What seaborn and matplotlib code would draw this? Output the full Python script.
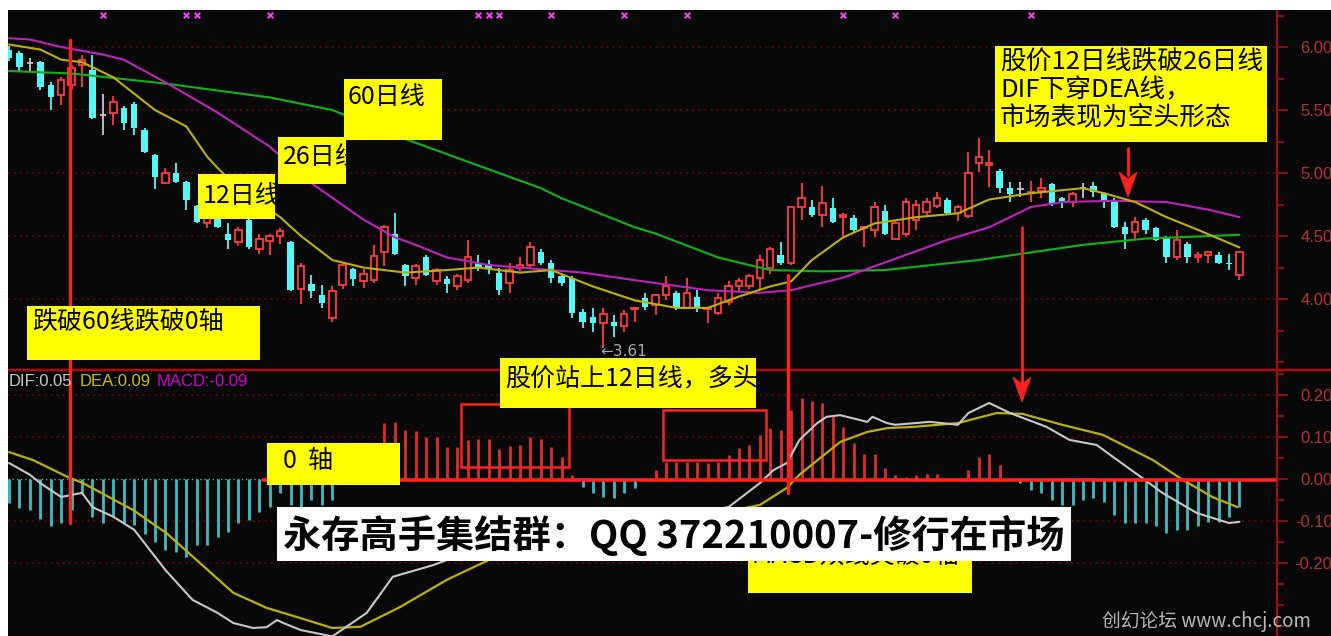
import numpy as np
import pandas as pd
import matplotlib
matplotlib.use("Agg")
import matplotlib.pyplot as plt
from matplotlib.patches import Rectangle, Polygon
from matplotlib.lines import Line2D
from matplotlib.ticker import FixedLocator, MultipleLocator, FormatStrFormatter
from matplotlib.transforms import blended_transform_factory
import seaborn as sns

# ---- daily candles (price panel) ----
opens = [5.98, 5.95, 5.87, 5.88, 5.70, 5.62, 5.70, 5.86, 5.82, 5.46,
         5.48, 5.52, 5.55, 5.34, 5.14, 4.92, 5.00, 4.93, 4.74, 4.60,
         4.72, 4.52, 4.45, 4.63, 4.40, 4.46, 4.50, 4.45, 4.08, 4.12,
         4.03, 3.85, 4.11, 4.24, 4.14, 4.15, 4.37, 4.52, 4.27, 4.17,
         4.33, 4.14, 4.16, 4.10, 4.15, 4.29, 4.28, 4.21, 4.13, 4.25,
         4.27, 4.37, 4.29, 4.18, 4.17, 3.90, 3.86, 3.81, 3.82, 3.79,
         3.92, 4.01, 3.95, 4.03, 4.05, 3.93, 4.02, 3.92, 3.89, 3.98,
         4.10, 4.10, 4.17, 4.25, 4.35, 4.29, 4.73, 4.73, 4.67, 4.72,
         4.65, 4.64, 4.56, 4.55, 4.70, 4.48, 4.52, 4.63, 4.69, 4.74,
         4.79, 4.68, 4.66, 5.08, 5.06, 5.02, 4.88, 4.87, 4.84, 4.86,
         4.91, 4.80, 4.77, 4.88, 4.90, 4.84, 4.79, 4.57, 4.53, 4.63,
         4.56, 4.49, 4.33, 4.44, 4.33, 4.35, 4.35, 4.29, 4.19]
highs = [6.01, 5.97, 5.91, 5.89, 5.72, 5.76, 5.86, 5.94, 5.94, 5.63,
         5.61, 5.53, 5.56, 5.36, 5.15, 5.04, 5.08, 4.94, 4.75, 4.70,
         4.74, 4.60, 4.57, 4.64, 4.52, 4.52, 4.56, 4.46, 4.29, 4.19,
         4.11, 4.10, 4.29, 4.25, 4.24, 4.43, 4.59, 4.68, 4.28, 4.28,
         4.35, 4.25, 4.18, 4.20, 4.47, 4.35, 4.31, 4.25, 4.29, 4.33,
         4.45, 4.40, 4.31, 4.20, 4.18, 3.92, 3.93, 3.93, 3.87, 3.91,
         3.94, 4.05, 4.04, 4.18, 4.06, 4.17, 4.07, 3.94, 4.05, 4.14,
         4.17, 4.20, 4.35, 4.41, 4.45, 4.74, 4.92, 4.79, 4.90, 4.80,
         4.68, 4.67, 4.58, 4.77, 4.75, 4.62, 4.80, 4.79, 4.80, 4.85,
         4.80, 4.75, 5.17, 5.28, 5.18, 5.03, 4.93, 4.93, 4.94, 4.96,
         4.92, 4.81, 4.85, 4.92, 4.93, 4.85, 4.80, 4.61, 4.65, 4.64,
         4.57, 4.50, 4.55, 4.45, 4.37, 4.38, 4.37, 4.36, 4.38]
lows = [5.89, 5.81, 5.81, 5.66, 5.50, 5.54, 5.66, 5.68, 5.43, 5.30,
        5.38, 5.34, 5.30, 5.16, 4.87, 4.91, 4.92, 4.71, 4.60, 4.56,
        4.56, 4.40, 4.42, 4.40, 4.36, 4.35, 4.44, 4.06, 3.96, 4.01,
        3.93, 3.82, 4.08, 4.10, 4.09, 4.13, 4.26, 4.35, 4.10, 4.11,
        4.18, 4.11, 4.05, 4.07, 4.13, 4.22, 4.20, 4.03, 4.05, 4.22,
        4.25, 4.27, 4.13, 4.10, 3.85, 3.77, 3.74, 3.61, 3.70, 3.74,
        3.82, 3.91, 3.87, 3.99, 3.91, 3.92, 3.90, 3.81, 3.87, 3.95,
        4.06, 4.08, 4.07, 4.20, 4.27, 4.27, 4.63, 4.65, 4.57, 4.60,
        4.50, 4.53, 4.41, 4.49, 4.51, 4.47, 4.49, 4.55, 4.67, 4.72,
        4.67, 4.62, 4.64, 5.01, 4.89, 4.84, 4.77, 4.81, 4.77, 4.80,
        4.74, 4.72, 4.73, 4.80, 4.81, 4.72, 4.56, 4.40, 4.47, 4.52,
        4.46, 4.29, 4.31, 4.29, 4.29, 4.29, 4.28, 4.23, 4.15]
closes = [5.91, 5.84, 5.87, 5.68, 5.60, 5.74, 5.83, 5.90, 5.44, 5.46,
          5.56, 5.40, 5.36, 5.17, 4.97, 5.00, 4.93, 4.79, 4.61, 4.66,
          4.57, 4.47, 4.55, 4.41, 4.48, 4.50, 4.54, 4.07, 4.26, 4.06,
          3.97, 4.06, 4.27, 4.16, 4.20, 4.34, 4.57, 4.36, 4.18, 4.26,
          4.19, 4.23, 4.12, 4.18, 4.33, 4.25, 4.25, 4.07, 4.23, 4.27,
          4.41, 4.29, 4.17, 4.13, 3.89, 3.82, 3.81, 3.88, 3.79, 3.88,
          3.93, 3.94, 4.03, 4.10, 3.94, 4.05, 3.94, 3.93, 4.01, 4.10,
          4.14, 4.18, 4.31, 4.40, 4.29, 4.73, 4.80, 4.67, 4.76, 4.61,
          4.67, 4.55, 4.57, 4.73, 4.52, 4.60, 4.77, 4.75, 4.77, 4.80,
          4.68, 4.73, 5.00, 5.13, 5.08, 4.88, 4.83, 4.87, 4.85, 4.88,
          4.76, 4.77, 4.83, 4.88, 4.85, 4.79, 4.57, 4.52, 4.61, 4.55,
          4.47, 4.33, 4.47, 4.33, 4.35, 4.37, 4.29, 4.28, 4.37]

# moving averages, read at sampled candle positions
ma12_idx = [0, 3, 5, 7, 10, 14, 17, 19, 20, 22, 26, 28, 31, 34, 38, 42, 45, 49, 52, 56,
            60, 64, 67, 70, 73, 75, 77, 80, 83, 87, 91, 94, 98, 103, 105, 108, 111, 114, 116, 118]
ma12_val = [6.02, 5.98, 5.90, 5.88, 5.76, 5.50, 5.37, 5.13, 5.04, 4.88, 4.65, 4.50, 4.31, 4.25, 4.21,
            4.23, 4.25, 4.21, 4.23, 4.10, 3.99, 3.93, 3.93, 4.02, 4.10, 4.14, 4.31, 4.49, 4.60, 4.65,
            4.68, 4.79, 4.84, 4.88, 4.84, 4.77, 4.65, 4.55, 4.48, 4.41]
ma26_idx = [0, 2, 5, 9, 11, 15, 20, 25, 29, 34, 37, 39, 42, 46, 52, 55, 60, 67, 72, 75,
            80, 84, 90, 94, 98, 101, 106, 111, 115, 118]
ma26_val = [6.07, 6.06, 6.00, 5.94, 5.90, 5.72, 5.48, 5.21, 4.92, 4.63, 4.49, 4.43, 4.33, 4.27, 4.23,
            4.21, 4.15, 4.07, 4.05, 4.07, 4.17, 4.29, 4.47, 4.57, 4.73, 4.77, 4.78, 4.77, 4.71, 4.65]
ma60_idx = [0, 6, 15, 25, 31, 38, 41, 51, 53, 60, 62, 68, 73, 78, 84, 93, 103, 109, 118]
ma60_val = [5.81, 5.79, 5.71, 5.60, 5.50, 5.27, 5.18, 4.88, 4.80, 4.57, 4.52, 4.33, 4.23, 4.22,
            4.23, 4.31, 4.43, 4.48, 4.51]

# signal markers along the top
signal_idx = [9, 17, 18, 25, 45, 46, 47, 52, 59, 65, 80, 85, 98]

# ---- MACD panel ----
macd_hist = [-0.057, -0.070, -0.074, -0.096, -0.113, -0.105, -0.074, -0.030, -0.090, -0.105,
             -0.090, -0.105, -0.110, -0.130, -0.150, -0.169, -0.174, -0.186, -0.157, -0.157,
             -0.138, -0.126, -0.105, -0.098, -0.078, -0.067, -0.034, -0.062, -0.067, -0.050,
             -0.062, -0.050, -0.010, 0.020, 0.050, 0.080, 0.133, 0.136, 0.117, 0.114,
             0.100, 0.100, 0.076, 0.076, 0.093, 0.095, 0.095, 0.071, 0.079, 0.081,
             0.100, 0.095, 0.076, 0.052, 0.010, -0.019, -0.033, -0.043, -0.045, -0.033,
             -0.021, -0.005, 0.021, 0.040, 0.040, 0.040, 0.040, 0.038, 0.040, 0.057,
             0.074, 0.081, 0.105, 0.121, 0.117, 0.164, 0.193, 0.186, 0.180, 0.152,
             0.124, 0.086, 0.060, 0.060, 0.026, 0.010, 0.005, 0.010, 0.013, 0.013,
             0.002, 0.002, 0.021, 0.052, 0.060, 0.033, 0.003, -0.010, -0.026, -0.033,
             -0.050, -0.062, -0.062, -0.050, -0.045, -0.055, -0.086, -0.105, -0.105, -0.105,
             -0.113, -0.129, -0.121, -0.121, -0.113, -0.102, -0.102, -0.090, -0.067]
dif_idx = [0, 2, 3, 5, 6, 7, 8, 10, 12, 13.5, 15, 17.6, 20, 21.5, 23.4, 24.7, 25.7, 26.3, 28, 31,
           34.3, 36.8, 40.7, 42, 69, 72, 73.3, 74.6, 75.8, 77.5, 78.4, 79.7, 82.3, 82.8, 84.2,
           85, 88.3, 91, 92, 94, 96, 99.5, 101.7, 104.3, 105.9, 108.7, 110.6, 113.9, 117, 118]
dif_val = [0.038, 0.010, -0.010, -0.043, -0.038, -0.033, -0.067, -0.090, -0.121, -0.169,
           -0.217, -0.288, -0.319, -0.343, -0.355, -0.353, -0.336, -0.343, -0.360, -0.375,
           -0.319, -0.233, -0.205, -0.193, -0.067, -0.010, 0.021, 0.038, 0.093, 0.133,
           0.148, 0.152, 0.136, 0.148, 0.133, 0.129, 0.136, 0.129, 0.157, 0.181,
           0.157, 0.124, 0.093, 0.081, 0.052, 0.002, -0.033, -0.081, -0.105, -0.102]
dea_idx = [0, 2.3, 5.6, 7.1, 11.9, 15.1, 18.3, 21.5, 24.7, 27.9, 31, 33.7, 37.5, 42, 46, 72,
           74.6, 75.8, 79.7, 82.3, 84.2, 86.7, 91, 94.7, 97.2, 101, 104.9, 109.7, 112.3, 115.4, 117.8]
dea_val = [0.064, 0.045, 0.005, -0.010, -0.074, -0.129, -0.200, -0.271, -0.307, -0.331,
           -0.355, -0.352, -0.305, -0.240, -0.193, -0.062, -0.021, 0.010, 0.088, 0.112,
           0.121, 0.124, 0.133, 0.157, 0.155, 0.129, 0.105, 0.045, 0.002, -0.043, -0.067]

price_ticks = [4.0, 4.5, 5.0, 5.5, 6.0]
macd_ticks = [-0.2, -0.1, 0.0, 0.1, 0.2]

# colours
BG = "#080808"
RED = "#ff3c3c"
CYAN = "#54f8f8"
GRAY = "#c8c8c8"
YEL_LINE = "#c0b000"
MAG = "#c020c0"
GRN = "#10b410"
AXRED = "#a01010"
LBL = "#b83030"
GRID = "#8a0000"
ANN = "#ff2020"
BOX = "#ffff00"

W, H = 1331, 636
CJK = ["Noto Sans CJK SC", "DejaVu Sans"]
LAT = ["Liberation Sans", "DejaVu Sans"]


def fx(x):
    return x / W


def fy(y):
    return 1 - y / H


sns.set_theme(style="dark", rc={"axes.facecolor": BG, "figure.facecolor": BG})
plt.rcParams["font.family"] = CJK

fig = plt.figure(figsize=(W / 100, H / 100), dpi=100, facecolor=BG)
ax_p = fig.add_axes([fx(8), fy(370), fx(1277) - fx(8), fy(10) - fy(370)])
ax_m = fig.add_axes([fx(8), fy(636), fx(1277) - fx(8), fy(370) - fy(636)])


def style_axis(ax, major, minor, ylim):
    ax.set_facecolor(BG)
    ax.grid(False)
    for s in ["top", "left", "bottom"]:
        ax.spines[s].set_visible(False)
    ax.spines["right"].set_color(AXRED)
    ax.spines["right"].set_linewidth(1.5)
    ax.set_xlim(-0.1, 121.6)
    ax.set_ylim(*ylim)
    ax.set_xticks([])
    ax.set_xlabel("")
    ax.set_ylabel("")
    ax.yaxis.tick_right()
    ax.yaxis.set_major_locator(FixedLocator(major))
    ax.yaxis.set_minor_locator(MultipleLocator(minor))
    ax.yaxis.set_major_formatter(FormatStrFormatter("%.2f"))
    ax.tick_params(axis="y", which="major", length=8, width=1.2, colors=AXRED,
                   labelcolor=LBL, labelsize=12, pad=32)
    ax.tick_params(axis="y", which="minor", length=5, width=1.2, colors=AXRED)
    for lab in ax.get_yticklabels():
        lab.set_horizontalalignment("right")
        lab.set_family(LAT)
    for v in major:
        if v != 0:
            ax.axhline(v, color=GRID, lw=1.1, ls=(0, (1, 3)), zorder=1)


# ---- price panel ----
style_axis(ax_p, price_ticks, 0.25, (3.437, 6.294))

o, h, l, c = (np.asarray(a) for a in (opens, highs, lows, closes))
idx = np.arange(len(o))
up, down, flat = c > o, c < o, c == o
wick_cols = np.where(up, RED, np.where(down, CYAN, GRAY))
ax_p.vlines(idx, l, h, colors=wick_cols, lw=1.3, zorder=2)
ax_p.bar(idx[up], c[up] - o[up], bottom=o[up], width=0.62, facecolor=BG,
         edgecolor=RED, linewidth=1.3, zorder=3)
ax_p.bar(idx[down], c[down] - o[down], bottom=o[down], width=0.62, color=CYAN,
         linewidth=0, zorder=3)
ax_p.hlines(c[flat], idx[flat] - 0.31, idx[flat] + 0.31, colors=GRAY, lw=1.3, zorder=3)

for xs, ys, col in [(ma60_idx, ma60_val, GRN), (ma26_idx, ma26_val, MAG), (ma12_idx, ma12_val, YEL_LINE)]:
    sns.lineplot(x=xs, y=ys, ax=ax_p, color=col, linewidth=1.5, estimator=None, sort=False, zorder=4)

top = blended_transform_factory(ax_p.transData, ax_p.transAxes)
ax_p.scatter(signal_idx, [0.986] * len(signal_idx), transform=top, marker="x",
             s=16, color="#ff40ff", linewidths=1.4, zorder=5)
ax_p.set_xlabel("")
ax_p.set_ylabel("")

# ---- MACD panel ----
style_axis(ax_m, macd_ticks, 0.05, (-0.374, 0.2595))
ax_m.axhline(0, color="#909090", lw=1, ls=(0, (1, 2)), zorder=1)
hist = np.asarray(macd_hist)
hcol = np.where(hist >= 0, "#d83030", "#3cbcc4")
ax_m.vlines(np.arange(len(hist)), 0, hist, colors=hcol, lw=2.0, zorder=2)
sns.lineplot(x=dea_idx, y=dea_val, ax=ax_m, color=YEL_LINE, linewidth=1.6, estimator=None, sort=False, zorder=3)
sns.lineplot(x=dif_idx, y=dif_val, ax=ax_m, color="#c8c8c8", linewidth=1.5, estimator=None, sort=False, zorder=3)
ax_m.set_xlabel("")
ax_m.set_ylabel("")

# ---- frame pieces in figure pixels ----
fig.add_artist(Rectangle((0, fy(10)), 1, 10 / H, transform=fig.transFigure,
                         facecolor="white", edgecolor="none", zorder=20))
fig.add_artist(Rectangle((0, 0), fx(8), 1, transform=fig.transFigure,
                         facecolor="white", edgecolor="none", zorder=20))
fig.add_artist(Line2D([fx(8), 1], [fy(370), fy(370)], color="#c80000", lw=1.6, zorder=6))


def vline(x, y0, y1, lw=2.4, z=7):
    fig.add_artist(Line2D([fx(x), fx(x)], [fy(y0), fy(y1)], color=ANN, lw=lw, zorder=z))


def arrow_head(x, y_tip, half=9, length=25, notch=7):
    pts = [(fx(x - half), fy(y_tip - length)), (fx(x), fy(y_tip - length + notch)),
           (fx(x + half), fy(y_tip - length)), (fx(x), fy(y_tip))]
    fig.add_artist(Polygon(pts, closed=True, transform=fig.transFigure,
                           facecolor=ANN, edgecolor=ANN, lw=0.5, zorder=7))


def outline(x0, y0, x1, y1):
    fig.add_artist(Rectangle((fx(x0), fy(y1)), fx(x1) - fx(x0), fy(y0) - fy(y1),
                             transform=fig.transFigure, facecolor="none",
                             edgecolor=ANN, lw=1.8, zorder=7))


def note_box(x0, y0, x1, y1, text, tx, ty, size=18, face=BOX, color="black",
             family=CJK, z=10, linespacing=1.2, weight="normal"):
    rect = Rectangle((fx(x0), fy(y1)), fx(x1) - fx(x0), fy(y0) - fy(y1),
                     transform=fig.transFigure, facecolor=face, edgecolor="none", zorder=z)
    fig.add_artist(rect)
    t = fig.text(fx(tx), fy(ty), text, ha="left", va="center", fontsize=size, color=color,
                 family=family, zorder=z + 0.5, linespacing=linespacing, weight=weight)
    t.set_clip_path(rect)


# red marker lines and arrows
vline(70, 40, 523)
vline(788, 275, 493)
vline(1022, 227, 385, lw=2)
arrow_head(1022, 402)
vline(1128, 148, 175, lw=2)
arrow_head(1128, 197)
outline(461, 404, 569, 467)
outline(663, 410, 766, 460)
fig.add_artist(Line2D([fx(263), fx(1275)], [fy(480), fy(480)], color=ANN, lw=2.6, zorder=6))

# yellow notes
note_box(198, 174, 275, 219, "12日线", 203, 196)
note_box(278, 137, 346, 184, "26日线", 283, 157)
note_box(344, 79, 442, 140, "60日线", 348, 97)
note_box(27, 306, 260, 360, "跌破60线跌破0轴", 32, 322)
note_box(995, 46, 1267, 142, "股价12日线跌破26日线\nDIF下穿DEA线，\n市场表现为空头形态",
         1000, 90, size=18.5, linespacing=1.05)
note_box(500, 358, 756, 408, "股价站上12日线，多头", 505, 378)
note_box(267, 443, 400, 485, "0  轴", 283, 461)
note_box(748, 540, 972, 593, "MACD双线突破0轴", 752, 556)
note_box(277, 507, 1071, 561, "永存高手集结群：QQ 372210007-修行在市场", 283, 535,
         size=27.5, face="white", z=12, weight="bold")

# small labels
fig.text(fx(9), fy(382), "DIF:0.05", color="#c8c8c8", fontsize=12, family=LAT, va="center", zorder=8)
fig.text(fx(80), fy(382), "DEA:0.09", color="#c8c000", fontsize=12, family=LAT, va="center", zorder=8)
fig.text(fx(157), fy(382), "MACD:-0.09", color="#d000d0", fontsize=12, family=LAT, va="center", zorder=8)
fig.text(fx(600), fy(351), "←3.61", color="#a8a8a8", fontsize=11, family=["DejaVu Sans"], va="center", zorder=8)
fig.text(fx(1102), fy(621), "创幻论坛 www.chcj.com", color="#b8b8b8", fontsize=13.5,
         family=CJK, va="center", zorder=8)

fig.savefig("out.png", dpi=100, facecolor=BG)
